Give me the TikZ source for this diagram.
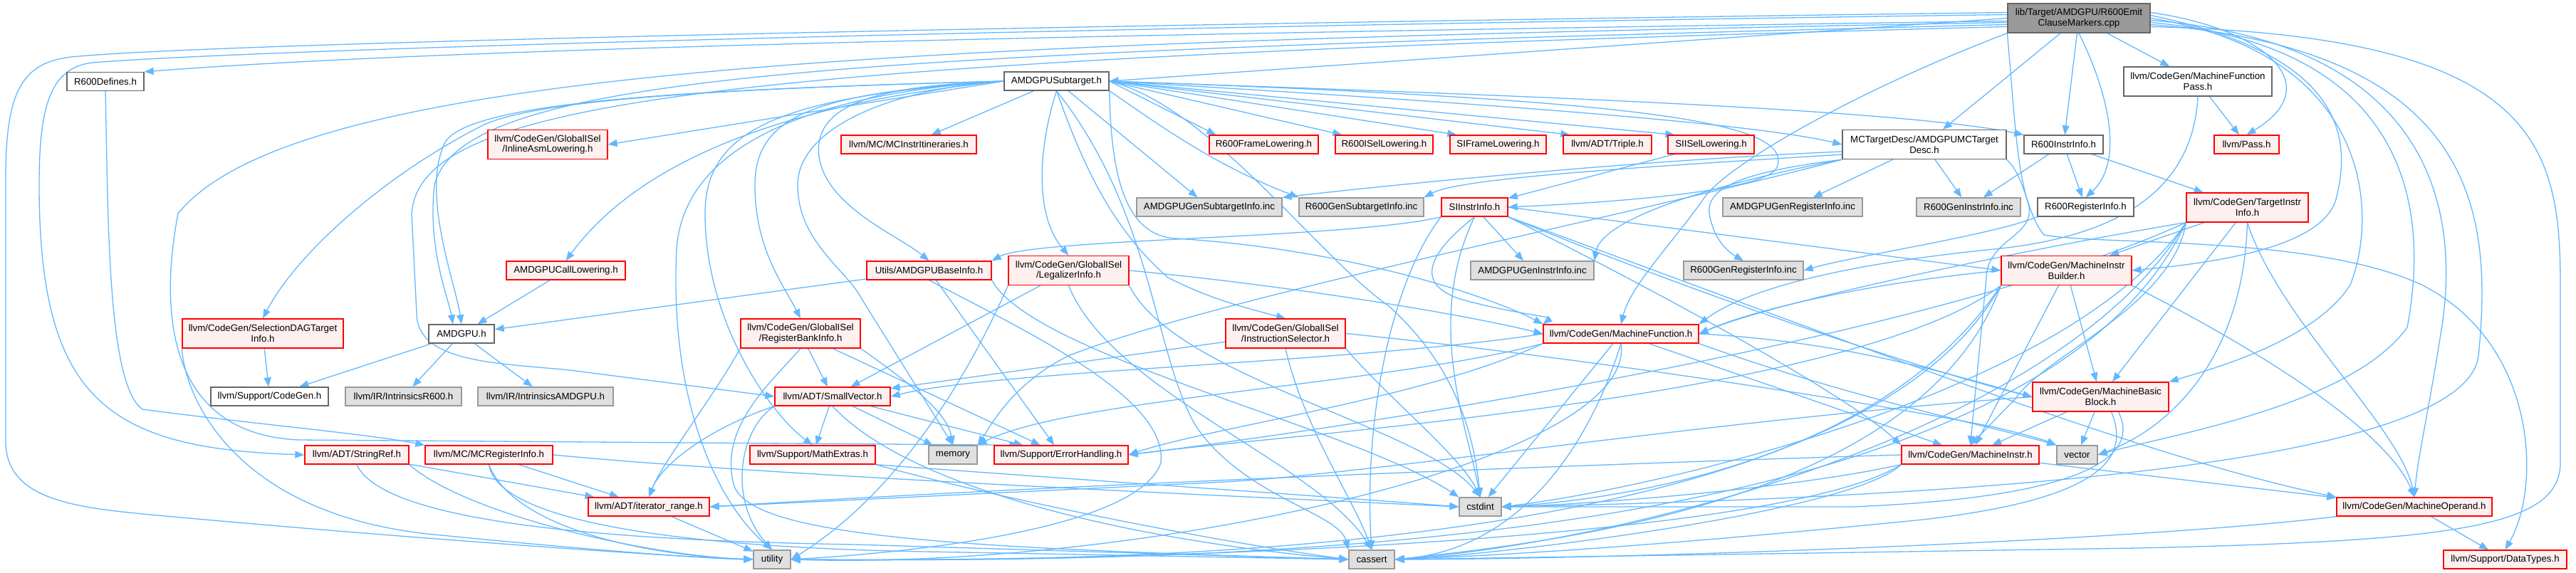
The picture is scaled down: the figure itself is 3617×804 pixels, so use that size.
\documentclass[tikz,border=0pt]{standalone}
\usepackage{fontspec}
\setmainfont{Liberation Sans}
\usetikzlibrary{arrows.meta,backgrounds}
\definecolor{dxedge}{HTML}{63B8FF}
\definecolor{dxred}{HTML}{FF0000}
\definecolor{dxpink}{HTML}{FFF0F0}
\definecolor{dxgray}{HTML}{E0E0E0}
\definecolor{dxgrayline}{HTML}{999999}
\definecolor{dxline}{HTML}{666666}
\definecolor{dxroot}{HTML}{999999}
\tikzset{
  hfile/.style  = {draw=dxline, line width=1.3pt, fill=white, align=center, inner sep=0pt,
                   font=\fontsize{13.3}{14.7}\selectfont, minimum height=26pt},
  hwhite/.style = {hfile},
  hred/.style   = {hfile, draw=dxred, fill=dxpink},
  hgray/.style  = {hfile, draw=dxgrayline, fill=dxgray},
  hroot/.style  = {hfile, fill=dxroot},
  htall/.style  = {minimum height=41pt},   % two-line labels
  dep/.style    = {draw=dxedge, line width=1.3pt, -{Triangle[length=13pt,width=10pt]}},
}

\begin{document}
\begin{tikzpicture}[x=1pt, y=1pt]
  \useasboundingbox (0,0) rectangle (3617,-804);

  \node[hroot, htall, minimum width=200pt] (root) at (2919,-25.5) {lib/Target/AMDGPU/R600Emit\\ClauseMarkers.cpp};
  \node[hwhite, htall, minimum width=208pt] (mfpass) at (3086,-114.5) {llvm/CodeGen/MachineFunction\\Pass.h};
  \node[hwhite, minimum width=108pt] (r600defs) at (148,-114.5) {R600Defines.h};
  \node[hwhite, minimum width=147pt] (subtarget) at (1483.5,-114) {AMDGPUSubtarget.h};

  \node[hred, htall, minimum width=168pt] (inlineasm) at (769,-203) {llvm/CodeGen/GlobalISel\\/InlineAsmLowering.h};
  \node[hred, minimum width=190pt] (itin) at (1276,-203) {llvm/MC/MCInstrItineraries.h};
  \node[hred, minimum width=153pt] (r600frame) at (1774.5,-203) {R600FrameLowering.h};
  \node[hred, minimum width=137pt] (r600isel) at (1943.5,-203) {R600ISelLowering.h};
  \node[hred, minimum width=135pt] (siframe) at (2103.5,-203) {SIFrameLowering.h};
  \node[hred, minimum width=124pt] (triple) at (2257,-203) {llvm/ADT/Triple.h};
  \node[hred, minimum width=121pt] (siisel) at (2402.5,-203) {SIISelLowering.h};
  \node[hwhite, htall, minimum width=230pt] (mcdesc) at (2702,-203) {MCTargetDesc/AMDGPUMCTarget\\Desc.h};
  \node[hwhite, minimum width=111pt] (r600ii) at (2897.5,-203) {R600InstrInfo.h};
  \node[hred, minimum width=91pt] (pass) at (3154.5,-203) {llvm/Pass.h};

  \node[hgray, minimum width=204pt] (gensubtgt) at (1698,-291) {AMDGPUGenSubtargetInfo.inc};
  \node[hgray, minimum width=175pt] (r600gensub) at (1911.5,-291) {R600GenSubtargetInfo.inc};
  \node[hred, minimum width=93pt] (siii) at (2070.5,-291) {SIInstrInfo.h};
  \node[hgray, minimum width=196pt] (genreg) at (2517,-291) {AMDGPUGenRegisterInfo.inc};
  \node[hgray, minimum width=146pt] (r600genii) at (2764,-291) {R600GenInstrInfo.inc};
  \node[hwhite, minimum width=135pt] (r600ri) at (2928.5,-291) {R600RegisterInfo.h};
  \node[hred, htall, minimum width=171pt] (tii) at (3155.5,-291.5) {llvm/CodeGen/TargetInstr\\Info.h};

  \node[hred, minimum width=167pt] (callow) at (794.5,-380) {AMDGPUCallLowering.h};
  \node[hred, minimum width=175pt] (baseinfo) at (1304.5,-380) {Utils/AMDGPUBaseInfo.h};
  \node[hred, htall, minimum width=169pt] (legal) at (1500.5,-380) {llvm/CodeGen/GlobalISel\\/LegalizerInfo.h};
  \node[hgray, minimum width=173pt] (geninstr) at (2151.5,-380) {AMDGPUGenInstrInfo.inc};
  \node[hgray, minimum width=168pt] (r600genreg) at (2448,-380) {R600GenRegisterInfo.inc};
  \node[hred, htall, minimum width=183pt] (mib) at (2901.5,-380) {llvm/CodeGen/MachineInstr\\Builder.h};

  \node[hred, htall, minimum width=226pt] (seldag) at (369,-468.5) {llvm/CodeGen/SelectionDAGTarget\\Info.h};
  \node[hwhite, minimum width=92pt] (amdgpu) at (648,-469) {AMDGPU.h};
  \node[hred, htall, minimum width=168pt] (regbank) at (1124,-468.5) {llvm/CodeGen/GlobalISel\\/RegisterBankInfo.h};
  \node[hred, htall, minimum width=168pt] (instsel) at (1805,-468.5) {llvm/CodeGen/GlobalISel\\/InstructionSelector.h};
  \node[hred, minimum width=218pt] (mf) at (2276,-469) {llvm/CodeGen/MachineFunction.h};
  \node[hred, htall, minimum width=191pt] (mbb) at (2949.5,-557.5) {llvm/CodeGen/MachineBasic\\Block.h};

  \node[hwhite, minimum width=165pt] (cgen) at (378.5,-557) {llvm/Support/CodeGen.h};
  \node[hgray, minimum width=163pt] (intr600) at (566.5,-557) {llvm/IR/IntrinsicsR600.h};
  \node[hgray, minimum width=190pt] (intamd) at (766,-557) {llvm/IR/IntrinsicsAMDGPU.h};
  \node[hred, minimum width=162pt] (smallvec) at (1169,-557) {llvm/ADT/SmallVector.h};

  \node[hred, minimum width=146pt] (strref) at (501,-639) {llvm/ADT/StringRef.h};
  \node[hred, minimum width=179pt] (mcreg) at (686.5,-639) {llvm/MC/MCRegisterInfo.h};
  \node[hred, minimum width=176pt] (mathext) at (1141,-639) {llvm/Support/MathExtras.h};
  \node[hgray, minimum width=68pt] (memory) at (1338,-639) {memory};
  \node[hred, minimum width=188pt] (errh) at (1490,-639) {llvm/Support/ErrorHandling.h};
  \node[hred, minimum width=193pt] (mi) at (2766.5,-639) {llvm/CodeGen/MachineInstr.h};
  \node[hgray, minimum width=57pt] (vector) at (2916.5,-639) {vector};

  \node[hred, minimum width=170pt] (iterrange) at (911,-712) {llvm/ADT/iterator\_range.h};
  \node[hgray, minimum width=59pt] (cstdint) at (2078.5,-712) {cstdint};
  \node[hred, minimum width=218pt] (mo) at (3390,-712) {llvm/CodeGen/MachineOperand.h};
  \node[hgray, minimum width=52pt] (utility) at (1084,-786) {utility};
  \node[hgray, minimum width=64pt] (cassert) at (1926,-786) {cassert};
  \node[hred, minimum width=173pt] (datatypes) at (3517.5,-786) {llvm/Support/DataTypes.h};

  \begin{scope}[on background layer]
    % the .cpp file
    \draw[dep] (root.west) -- (subtarget.east);
    \draw[dep] ([yshift=-4pt]root.west) .. controls (1400,-50) and (600,-70) .. (r600defs.north east);
    \draw[dep] ([yshift=8pt]root.west) .. controls (1500,-35) and (300,-60) .. (100,-80) .. controls (30,-88) and (8,-130) .. (8,-250) -- (8,-620) .. controls (8,-700) and (100,-712) .. (200,-722) .. controls (500,-750) and (900,-780) .. (utility.west);
    \draw[dep] ([yshift=5pt]root.west) .. controls (1400,-40) and (350,-70) .. (130,-88) .. controls (70,-95) and (55,-150) .. (55,-260) .. controls (55,-560) and (150,-630) .. (strref.west);
    \draw[dep] ([yshift=-6pt]root.west) .. controls (1300,-60) and (420,-90) .. (250,-300) .. controls (225,-430) and (230,-610) .. (420,-618) -- ([xshift=35pt]errh.north west);
    \draw[dep] ([yshift=-9pt]root.west) .. controls (1200,-75) and (650,-100) .. (610,-260) .. controls (600,-350) and (630,-420) .. ([xshift=-12pt]amdgpu.north);
    \draw[dep] ([yshift=-12pt]root.west) .. controls (1000,-85) and (590,-140) .. (578,-300) -- (585,-440) .. controls (585,-510) and (700,-510) .. (800,-520) -- (smallvec.west);
    \draw[dep] (root) -- (mcdesc);
    \draw[dep] (root) -- (r600ii);
    \draw[dep] (root.south) .. controls (2965,-140) and (2980,-230) .. (r600ri.north);
    \draw[dep] (root) -- (mfpass);
    \draw[dep] ([yshift=8pt]root.east) .. controls (3180,-40) and (3270,-120) .. (pass.north);
    \draw[dep] (root.south west) .. controls (2600,-130) and (2430,-230) .. (2395,-275) .. controls (2350,-340) and (2290,-400) .. (mf.north);
    \draw[dep] (root.south west) .. controls (2828,-150) and (2830,-230) .. (2849,-290) .. controls (2855,-330) and (2800,-335) .. (2790,-380) -- (mi.north);
    \draw[dep] ([yshift=4pt]root.east) .. controls (3300,-80) and (3300,-200) .. (3280,-280) .. controls (3260,-350) and (3100,-370) .. (mib.east);
    \draw[dep] (root.east) .. controls (3330,-75) and (3340,-300) .. (3300,-400) .. controls (3250,-480) and (3100,-520) .. (mbb.north east);
    \draw[dep] ([yshift=-3pt]root.east) .. controls (3420,-60) and (3450,-300) .. (3430,-450) .. controls (3410,-580) and (3395,-640) .. (mo.north);
    \draw[dep] ([yshift=-6pt]root.east) .. controls (3390,-65) and (3410,-300) .. (3380,-460) .. controls (3300,-570) and (3050,-610) .. (vector.east);
    \draw[dep] ([yshift=-9pt]root.east) .. controls (3480,-70) and (3500,-300) .. (3480,-500) .. controls (3460,-660) and (2700,-700) .. (cstdint.east);
    \draw[dep] ([yshift=-12pt]root.east) .. controls (3560,-50) and (3595,-200) .. (3595,-400) -- (3595,-650) .. controls (3595,-740) and (3450,-760) .. (3000,-770) -- (cassert.east);

    % AMDGPUSubtarget.h
    \draw[dep] (subtarget.west) .. controls (1000,-125) and (660,-140) .. (625,-200) .. controls (590,-270) and (640,-400) .. (amdgpu.north);
    \draw[dep] (subtarget.west) .. controls (1050,-150) and (880,-250) .. (callow.north);
    \draw[dep] (subtarget.west) -- (inlineasm.east);
    \draw[dep] (subtarget) -- (itin);
    \draw[dep] (subtarget.east) -- ([xshift=10pt]r600frame.north west);
    \draw[dep] (subtarget.east) -- ([xshift=10pt]r600isel.north west);
    \draw[dep] (subtarget.east) -- ([xshift=10pt]siframe.north west);
    \draw[dep] (subtarget.east) -- ([xshift=10pt]triple.north west);
    \draw[dep] (subtarget.east) -- ([xshift=10pt]siisel.north west);
    \draw[dep] (subtarget.east) .. controls (2000,-140) and (2450,-170) .. (mcdesc.west);
    \draw[dep] (subtarget.east) .. controls (2000,-130) and (2650,-150) .. (r600ii.north west);
    \draw[dep] (subtarget.east) .. controls (2300,-140) and (2520,-170) .. (2495,-235) .. controls (2480,-270) and (2250,-285) .. (siii.east);
    \draw[dep] (subtarget) -- (gensubtgt);
    \draw[dep] (subtarget.south east) .. controls (1620,-170) and (1700,-230) .. (r600gensub.north west);
    \draw[dep] (subtarget.west) .. controls (1250,-120) and (1140,-140) .. (1150,-220) .. controls (1160,-290) and (1260,-330) .. (baseinfo.north);
    \draw[dep] (subtarget.south) .. controls (1460,-200) and (1450,-300) .. (legal.north);
    \draw[dep] (subtarget.south) .. controls (1520,-230) and (1560,-320) .. (1640,-390) .. controls (1700,-420) and (1740,-430) .. (instsel.north);
    \draw[dep] (subtarget.west) .. controls (1150,-130) and (1060,-160) .. (1060,-260) .. controls (1060,-350) and (1100,-400) .. (regbank.north);
    \draw[dep] (subtarget.south east) .. controls (1560,-220) and (1570,-330) .. (1650,-335) .. controls (1900,-350) and (2100,-420) .. (mf.north west);
    \draw[dep] (subtarget.west) .. controls (1000,-125) and (760,-140) .. (680,-175) .. controls (550,-240) and (420,-350) .. (seldag.north);
    \draw[dep] (subtarget.west) .. controls (1100,-135) and (990,-180) .. (990,-300) .. controls (990,-450) and (1080,-580) .. (mathext.north);
    \draw[dep] (subtarget.west) .. controls (1250,-125) and (1120,-180) .. (1120,-260) .. controls (1120,-340) and (1190,-380) .. (1210,-420) -- (memory.north);
    \draw[dep] (subtarget.west) .. controls (1150,-130) and (960,-200) .. (950,-350) .. controls (940,-550) and (1000,-700) .. (utility.north);
    \draw[dep] (subtarget.south) .. controls (1620,-300) and (1620,-500) .. (1680,-600) .. controls (1750,-700) and (1880,-720) .. (cassert.north west);
    \draw[dep] (subtarget.east) .. controls (1700,-150) and (1850,-360) .. (1950,-430) .. controls (2050,-520) and (2070,-620) .. (cstdint.north);

    \draw[dep] (callow) -- (amdgpu);
    \draw[dep] (amdgpu) -- (cgen);
    \draw[dep] (amdgpu) -- (intr600);
    \draw[dep] (amdgpu) -- (intamd);
    \draw[dep] (seldag) -- (cgen);
    \draw[dep] (seldag.south west) .. controls (260,-560) and (330,-720) .. (600,-750) .. controls (850,-775) and (1000,-785) .. (utility.west);
    \draw[dep] (r600defs.south) .. controls (152,-300) and (150,-540) .. (200,-575) .. controls (350,-595) and (520,-610) .. (mcreg.north west);

    \draw[dep] (baseinfo) -- (amdgpu);
    \draw[dep] (baseinfo) -- (errh);
    \draw[dep] (baseinfo.south east) .. controls (1450,-500) and (1900,-600) .. (cstdint.north west);
    \draw[dep] (baseinfo.south) .. controls (1450,-470) and (1640,-560) .. (1630,-650) .. controls (1600,-740) and (1300,-775) .. (utility.east);

    \draw[dep] (legal) -- (smallvec);
    \draw[dep] (legal.east) .. controls (1800,-400) and (2050,-440) .. (mf.west);
    \draw[dep] (legal.south) .. controls (1560,-550) and (1850,-650) .. (cassert.north);
    \draw[dep] (legal.south east) .. controls (1650,-530) and (2000,-600) .. (cstdint.north);
    \draw[dep] (legal.south west) .. controls (1350,-550) and (1250,-700) .. (utility.east);

    \draw[dep] (regbank) -- (smallvec);
    \draw[dep] (regbank.south west) .. controls (1000,-560) and (930,-650) .. (iterrange.north);
    \draw[dep] (regbank) -- (errh);
    \draw[dep] (regbank.south east) .. controls (1280,-540) and (1330,-580) .. (memory.north);
    \draw[dep] (regbank.south) .. controls (1080,-540) and (1010,-600) .. (1030,-680) .. controls (1050,-760) and (1400,-770) .. (cassert.west);

    \draw[dep] (instsel) -- (smallvec);
    \draw[dep] (instsel.south) .. controls (1830,-600) and (1900,-700) .. (cassert.north);
    \draw[dep] (instsel.south east) .. controls (1950,-560) and (2050,-640) .. (cstdint.north);
    \draw[dep] (instsel.east) .. controls (2200,-500) and (2600,-560) .. (2800,-600) .. controls (2850,-612) and (2870,-618) .. (vector.north west);

    % SIInstrInfo.h
    \draw[dep] (siisel) -- (siii);
    \draw[dep] (siii.south west) .. controls (1900,-335) and (1450,-335) .. (baseinfo.north east);
    \draw[dep] (siii) -- (geninstr);
    \draw[dep] (siii.south) .. controls (2000,-360) and (1990,-400) .. (2050,-420) .. controls (2120,-440) and (2180,-445) .. (mf.north west);
    \draw[dep] (siii.east) -- (mib.west);
    \draw[dep] (siii.south east) .. controls (2400,-420) and (2700,-520) .. (mbb.west);
    \draw[dep] (siii.south east) .. controls (2350,-420) and (2600,-560) .. (mi.north west);
    \draw[dep] (siii.south east) .. controls (2600,-480) and (3000,-640) .. (mo.north west);
    \draw[dep] (siii.south west) .. controls (1950,-400) and (1915,-600) .. (cassert.north);
    \draw[dep] (siii.south) .. controls (2000,-450) and (2060,-600) .. (cstdint.north);

    % MCTargetDesc
    \draw[dep] ([yshift=-10pt]mcdesc.west) .. controls (2300,-225) and (1950,-260) .. (gensubtgt.north east);
    \draw[dep] ([yshift=-14pt]mcdesc.west) .. controls (2300,-235) and (2050,-250) .. (r600gensub.north east);
    \draw[dep] (mcdesc) -- (genreg);
    \draw[dep] (mcdesc.south west) .. controls (2450,-250) and (2250,-300) .. (geninstr.north east);
    \draw[dep] (mcdesc.south west) .. controls (2460,-240) and (2395,-260) .. (2400,-300) .. controls (2405,-330) and (2420,-350) .. (r600genreg.north);
    \draw[dep] (mcdesc) -- (r600genii);
    \draw[dep] (mcdesc.south west) .. controls (2300,-300) and (1700,-420) .. (1500,-500) .. controls (1420,-540) and (1390,-600) .. (memory.north east);
    \draw[dep] (mcdesc.south east) .. controls (2845,-250) and (2845,-300) .. (2870,-330) .. controls (2950,-345) and (3250,-330) .. (3400,-400) .. controls (3560,-480) and (3570,-680) .. (datatypes.north);

    \draw[dep] (r600ii) -- (r600genii);
    \draw[dep] (r600ii) -- (r600ri);
    \draw[dep] (r600ii) -- (tii);
    \draw[dep] (r600ri.south west) .. controls (2800,-330) and (2600,-360) .. (r600genreg.east);
    \draw[dep] (mfpass) -- (pass);
    \draw[dep] (mfpass.south) .. controls (3080,-250) and (3000,-330) .. (2800,-350) .. controls (2500,-380) and (2420,-430) .. (mf.north east);

    % TargetInstrInfo.h
    \draw[dep] (tii) -- (mib);
    \draw[dep] (tii) -- (mbb);
    \draw[dep] (tii.south west) .. controls (2900,-340) and (2500,-420) .. (mf.east);
    \draw[dep] (tii.south west) .. controls (3050,-430) and (2870,-500) .. (2830,-560) -- (mi.north);
    \draw[dep] (tii.south) .. controls (3200,-450) and (3370,-600) .. (mo.north);
    \draw[dep] (tii.south west) .. controls (2700,-480) and (1900,-600) .. (errh.east);
    \draw[dep] (tii.south west) .. controls (2900,-600) and (2300,-760) .. (cassert.east);
    \draw[dep] (tii.south west) .. controls (2900,-560) and (2300,-690) .. (cstdint.east);
    \draw[dep] (tii.south west) .. controls (2850,-780) and (1700,-790) .. (utility.east);
    \draw[dep] (tii.south) .. controls (3150,-500) and (3050,-600) .. (vector.east);

    % MachineInstrBuilder.h
    \draw[dep] (mib) -- (mbb);
    \draw[dep] (mib.west) .. controls (2600,-400) and (2450,-440) .. (mf.east);
    \draw[dep] (mib) -- (mi);
    \draw[dep] (mib.south east) .. controls (3150,-480) and (3350,-600) .. (mo.north);
    \draw[dep] (mib.south west) .. controls (2600,-560) and (1800,-610) .. (errh.east);
    \draw[dep] (mib.south west) .. controls (2700,-700) and (2200,-760) .. (cassert.east);
    \draw[dep] (mib.south west) .. controls (2650,-640) and (2300,-700) .. (cstdint.east);
    \draw[dep] (mib.south west) .. controls (2600,-780) and (1600,-790) .. (utility.east);

    % MachineFunction.h
    \draw[dep] (mf.east) .. controls (2600,-480) and (2750,-530) .. (mbb.west);
    \draw[dep] (mf) -- (mi);
    \draw[dep] (mf.west) .. controls (1900,-510) and (1400,-520) .. (smallvec.east);
    \draw[dep] (mf.south west) .. controls (2000,-560) and (1700,-600) .. (errh.east);
    \draw[dep] (mf.south) .. controls (2240,-600) and (2150,-770) .. (cassert.east);
    \draw[dep] (mf) -- (cstdint);
    \draw[dep] (mf.south west) .. controls (1950,-540) and (1500,-560) .. (memory.north east);
    \draw[dep] (mf.south) .. controls (2300,-650) and (1600,-800) .. (utility.east);
    \draw[dep] (mf.south east) .. controls (2600,-560) and (2800,-600) .. (vector.north west);

    \draw[dep] (mbb) -- (mi);
    \draw[dep] (mbb) -- (vector);
    \draw[dep] (mbb.west) .. controls (2400,-590) and (1900,-670) .. (1700,-678) -- (iterrange.east);
    \draw[dep] ([xshift=15pt]mbb.south) .. controls (2990,-640) and (2960,-700) .. (2700,-730) .. controls (2300,-770) and (2100,-780) .. (cassert.east);
    \draw[dep] ([xshift=25pt]mbb.south) .. controls (3010,-650) and (2900,-700) .. (2600,-712) -- (cstdint.east);

    \draw[dep] (mi) -- (mo);
    \draw[dep] (mi.west) .. controls (2300,-650) and (1500,-680) .. (iterrange.east);
    \draw[dep] (mi.south west) .. controls (2600,-720) and (2100,-780) .. (cassert.east);
    \draw[dep] (mi.south west) .. controls (2500,-690) and (2200,-710) .. (cstdint.east);
    \draw[dep] (mi.south west) .. controls (2500,-760) and (1600,-790) .. (utility.east);
    \draw[dep] (mo) -- (datatypes);
    \draw[dep] (mo.south west) .. controls (3000,-760) and (2300,-785) .. (cassert.east);

    % ADT and Support headers
    \draw[dep] (smallvec.south west) .. controls (1000,-600) and (930,-650) .. (iterrange.north);
    \draw[dep] (smallvec) -- (mathext);
    \draw[dep] (smallvec) -- (memory);
    \draw[dep] (smallvec) -- (errh);
    \draw[dep] (smallvec.south) .. controls (1280,-690) and (1600,-760) .. (cassert.west);
    \draw[dep] (smallvec.south west) .. controls (1040,-600) and (1020,-700) .. (utility.north);
    \draw[dep] (mathext.south east) .. controls (1400,-700) and (1700,-760) .. (cassert.west);
    \draw[dep] (mathext.south east) .. controls (1600,-680) and (1900,-700) .. (cstdint.west);
    \draw[dep] (strref) -- (iterrange);
    \draw[dep] (strref.south) .. controls (540,-740) and (900,-760) .. (1200,-765) -- (cassert.west);
    \draw[dep] (strref.south east) .. controls (650,-720) and (900,-780) .. (utility.west);
    \draw[dep] (mcreg) -- (iterrange);
    \draw[dep] (mcreg.south) .. controls (700,-740) and (1000,-770) .. (1300,-775) -- (cassert.west);
    \draw[dep] (mcreg.east) .. controls (1100,-670) and (1800,-700) .. (cstdint.west);
    \draw[dep] (mcreg.south) .. controls (720,-740) and (900,-780) .. (utility.west);
    \draw[dep] (iterrange) -- (utility);
  \end{scope}
\end{tikzpicture}
\end{document}
